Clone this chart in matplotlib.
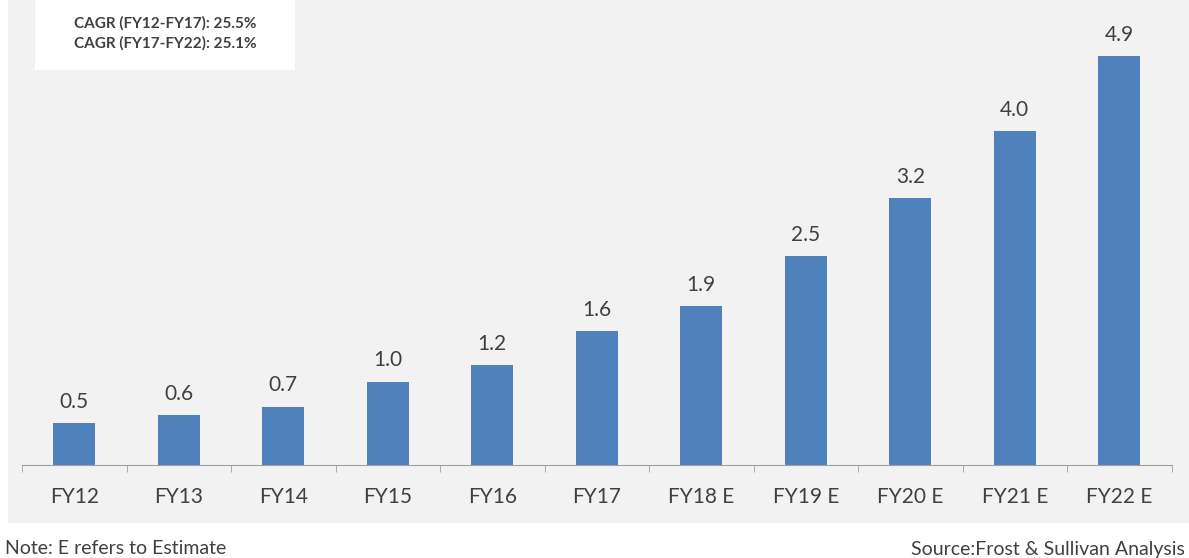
import matplotlib.pyplot as plt
from matplotlib.patches import Rectangle

# Chart data
years = ['FY12', 'FY13', 'FY14', 'FY15', 'FY16', 'FY17',
         'FY18 E', 'FY19 E', 'FY20 E', 'FY21 E', 'FY22 E']
values = [0.5, 0.6, 0.7, 1.0, 1.2, 1.6, 1.9, 2.5, 3.2, 4.0, 4.9]
cagr_lines = ['CAGR (FY12-FY17): 25.5%', 'CAGR (FY17-FY22): 25.1%']

plt.rcParams['font.family'] = ['Lato', 'DejaVu Sans']
text_col = '#404040'
W, H = 1189, 558

fig = plt.figure(figsize=(W / 100, H / 100), dpi=100)
fig.patch.set_facecolor('white')

# gray chart area background
fig.patches.append(Rectangle((8 / W, 1 - 523 / H), 1 - 8 / W, 523 / H,
                             transform=fig.transFigure, facecolor='#f2f2f2',
                             edgecolor='none', zorder=-1))

ax = fig.add_axes([22 / W, 1 - 465 / H, (1171.5 - 22) / W, 465 / H])
ax.set_facecolor('none')

x = range(len(years))
bars = ax.bar(x, values, width=0.4, color='#4f81bd', zorder=2)
for b, v in zip(bars, values):
    ax.annotate(f'{v:.1f}', (b.get_x() + b.get_width() / 2, v),
                xytext=(0, 8), textcoords='offset points',
                ha='center', va='bottom', fontsize=15, color=text_col)

ax.set_xlim(-0.5, len(years) - 0.5)
ax.set_ylim(0, 465 / 83.5)
ax.set_xticks(list(x))
ax.set_xticklabels(years, fontsize=15, color=text_col)
ax.set_xticks([i - 0.5 for i in range(len(years) + 1)], minor=True)
ax.tick_params(axis='x', which='major', length=0, pad=16)
ax.tick_params(axis='x', which='minor', length=5, color='#a0a0a0', direction='out')
ax.set_yticks([])
for s in ['top', 'right', 'left']:
    ax.spines[s].set_visible(False)
ax.spines['bottom'].set_color('#a0a0a0')

# CAGR box
fig.patches.append(Rectangle((35 / W, 1 - 70 / H), 260 / W, 70 / H,
                             transform=fig.transFigure, facecolor='white',
                             edgecolor='none', zorder=1))
fig.text(165 / W, 1 - 23 / H, cagr_lines[0], ha='center', va='center',
         fontsize=11, fontweight='bold', color=text_col)
fig.text(165 / W, 1 - 43 / H, cagr_lines[1], ha='center', va='center',
         fontsize=11, fontweight='bold', color=text_col)

fig.text(5 / W, 1 - 549 / H, 'Note: E refers to Estimate', ha='left',
         va='center', fontsize=14, color=text_col)
fig.text(1185 / W, 1 - 549 / H, 'Source:Frost & Sullivan Analysis', ha='right',
         va='center', fontsize=14, color=text_col)

plt.savefig('out.png', dpi=100)
